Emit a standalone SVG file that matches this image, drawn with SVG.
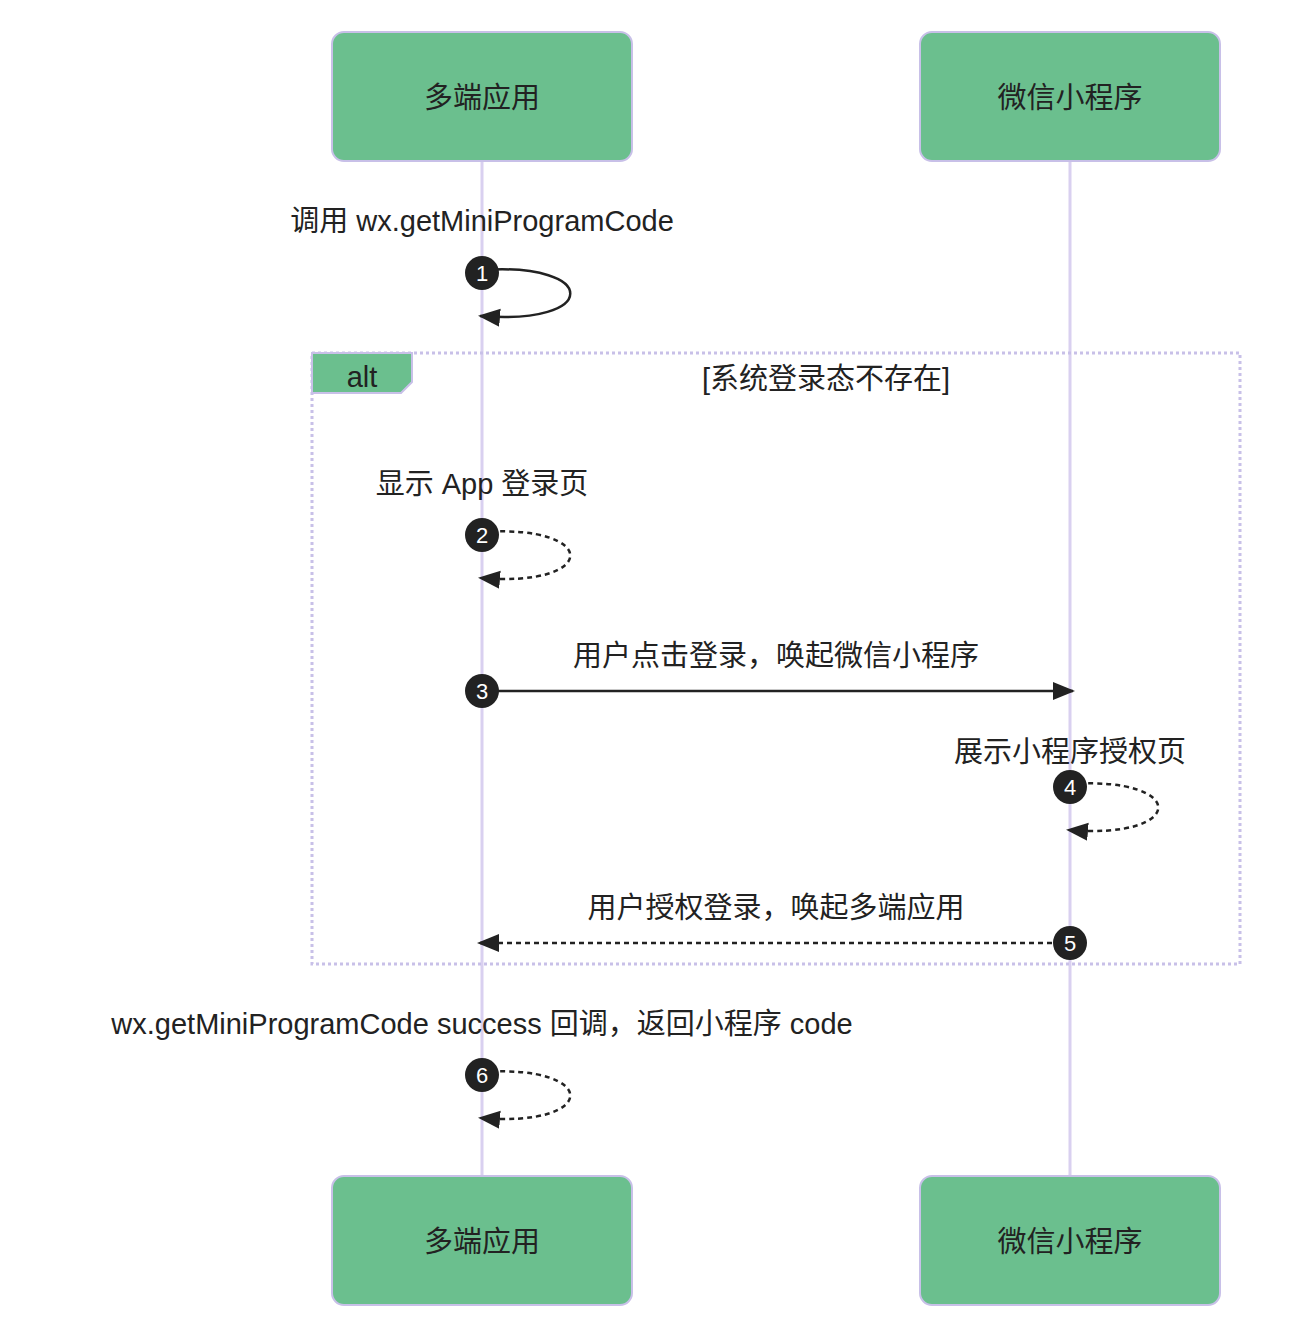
<svg xmlns="http://www.w3.org/2000/svg" width="1294" height="1344" viewBox="0 0 1294 1344">
<style>
text{font-family:"Liberation Sans","Noto Sans CJK SC",sans-serif;font-size:29px;fill:#222}
.actor rect{fill:#6bbf8e;stroke:#c8c0e8;stroke-width:2}
.life{stroke:#d9d0f0;stroke-width:3}
.msg{fill:none;stroke:#222;stroke-width:2.5}
.dash{stroke-dasharray:5,4}
.num circle{fill:#222}
.num text{fill:#fff;font-size:22px}
</style>
<defs>
<marker id="ah" viewBox="0 0 10 10" refX="9" refY="5" markerWidth="8" markerHeight="8" markerUnits="userSpaceOnUse" orient="auto" style="overflow:visible">
<path d="M0,0 L10,5 L0,10 z" fill="#222" transform="scale(2.2) translate(-5,-5) translate(5,5)"/>
</marker>
<marker id="a" viewBox="0 0 22 22" refX="20" refY="11" markerWidth="22" markerHeight="22" markerUnits="userSpaceOnUse" orient="auto"><path d="M0,2 L22,11 L0,20 z" fill="#222"/></marker>
</defs>
<line class="life" x1="482" y1="161" x2="482" y2="1176"/>
<line class="life" x1="1070" y1="161" x2="1070" y2="1176"/>
<g id="alt">
<rect x="312" y="353" width="928" height="611" fill="none" stroke="#c8c0e8" stroke-width="3" stroke-dasharray="3,3"/>
<polygon points="312,353 412,353 412,382 401,393 312,393" fill="#6bbf8e" stroke="#c8c0e8" stroke-width="2"/>
<text x="362" y="387" text-anchor="middle">alt</text>
<text x="826" y="389" text-anchor="middle">[系统登录态不存在]</text>
</g>
<g id="actor-a-top" class="actor"><rect x="332" y="32" width="300" height="129" rx="12"/><text x="482" y="108" text-anchor="middle">多端应用</text></g>
<g id="actor-b-top" class="actor"><rect x="920" y="32" width="300" height="129" rx="12"/><text x="1070" y="108" text-anchor="middle">微信小程序</text></g>
<g id="actor-a-bot" class="actor"><rect x="332" y="1176" width="300" height="129" rx="12"/><text x="482" y="1252" text-anchor="middle">多端应用</text></g>
<g id="actor-b-bot" class="actor"><rect x="920" y="1176" width="300" height="129" rx="12"/><text x="1070" y="1252" text-anchor="middle">微信小程序</text></g>
<g id="connectors">
<path class="msg" d="M482,270 C600,262 600,326 480,316" marker-end="url(#a)"/>
<path class="msg dash" d="M482,532 C600,524 600,588 480,578" marker-end="url(#a)"/>
<line class="msg" x1="482" y1="691" x2="1073" y2="691" marker-end="url(#a)"/>
<path class="msg dash" d="M1070,784 C1188,776 1188,840 1068,830" marker-end="url(#a)"/>
<line class="msg dash" x1="1070" y1="943" x2="479" y2="943" marker-end="url(#a)"/>
<path class="msg dash" d="M482,1072 C600,1064 600,1128 480,1118" marker-end="url(#a)"/>
</g>
<g id="labels">
<text x="482" y="231" text-anchor="middle">调用 wx.getMiniProgramCode</text>
<text x="482" y="494" text-anchor="middle">显示 App 登录页</text>
<text x="776" y="666" text-anchor="middle">用户点击登录，唤起微信小程序</text>
<text x="1070" y="762" text-anchor="middle">展示小程序授权页</text>
<text x="776" y="918" text-anchor="middle">用户授权登录，唤起多端应用</text>
<text x="482" y="1034" text-anchor="middle">wx.getMiniProgramCode success 回调，返回小程序 code</text>
</g>
<g id="numbers" class="num">
<g><circle cx="482" cy="273" r="17"/><text x="482" y="281" text-anchor="middle">1</text></g>
<g><circle cx="482" cy="535" r="17"/><text x="482" y="543" text-anchor="middle">2</text></g>
<g><circle cx="482" cy="691" r="17"/><text x="482" y="699" text-anchor="middle">3</text></g>
<g><circle cx="1070" cy="787" r="17"/><text x="1070" y="795" text-anchor="middle">4</text></g>
<g><circle cx="1070" cy="943" r="17"/><text x="1070" y="951" text-anchor="middle">5</text></g>
<g><circle cx="482" cy="1075" r="17"/><text x="482" y="1083" text-anchor="middle">6</text></g>
</g>
</svg>
